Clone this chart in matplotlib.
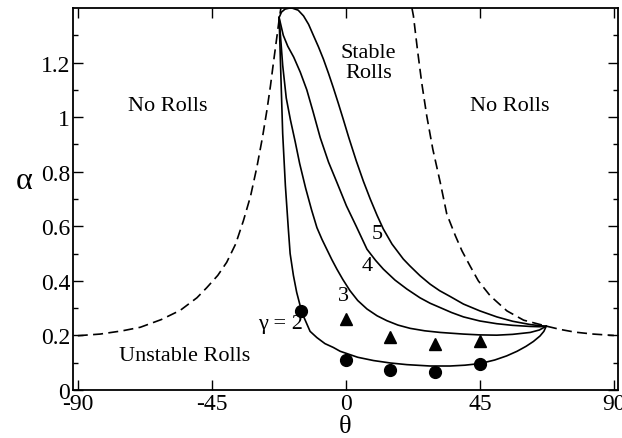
"""
Roll stability diagram: alpha vs theta
"""
import matplotlib
matplotlib.use('Agg')
import matplotlib.pyplot as plt

plt.rcParams['font.family'] = ['Liberation Serif', 'DejaVu Serif']
plt.rcParams['axes.unicode_minus'] = False

# dashed boundaries (existence of rolls)
dash_left_theta = [-90, -82.5, -75, -69, -62, -55.6, -50, -46.7, -43, -40, -37, -34.4,
                   -32, -29.9, -28, -26.5, -25.3, -24.3, -23.2, -22.3, -21.8]
dash_left_alpha = [0.199, 0.205, 0.217, 0.230, 0.258, 0.292, 0.338, 0.375, 0.420, 0.468,
                   0.535, 0.620, 0.710, 0.815, 0.925, 1.025, 1.115, 1.200, 1.290, 1.365, 1.40]
dash_right_theta = [22.2, 22.7, 24.1, 25.5, 27.2, 29.2, 31.7, 33.9, 36.8, 39.0, 41.7,
                    44.5, 48.5, 54.1, 59.7, 67.0, 72.0, 77.0, 83.1, 90]
dash_right_alpha = [1.40, 1.371, 1.243, 1.125, 1.003, 0.883, 0.761, 0.645, 0.565, 0.510,
                    0.455, 0.400, 0.345, 0.290, 0.256, 0.235, 0.222, 0.212, 0.205, 0.200]

# stability boundaries for gamma = 2..5
g2_theta = [-22.4, -21.8, -21.2, -20.3, -19.3, -18.7, -17.6, -16.5, -15.0, -14.2, -12.0,
            -9.7, -7.0, -4.2, -1.9, 4.0, 9.3, 15.0, 20.5, 28.3, 35.0, 40.0, 45.1, 50.0,
            54.0, 57.5, 60.5, 63.0, 65.2, 66.5, 67.3]
g2_alpha = [1.365, 1.15, 0.94, 0.75, 0.59, 0.50, 0.42, 0.358, 0.295, 0.270, 0.215,
            0.192, 0.170, 0.156, 0.142, 0.120, 0.108, 0.099, 0.093, 0.088, 0.088, 0.091,
            0.097, 0.110, 0.125, 0.142, 0.160, 0.178, 0.198, 0.215, 0.234]
g3_theta = [-22.4, -21.2, -20.0, -18.6, -17.0, -15.5, -13.5, -11.5, -9.7, -8.0, -6.4,
            -4.7, -3.0, -1.0, 1.4, 4.0, 7.1, 10.5, 13.8, 17.5, 21.6, 26.5, 31.7, 39.5,
            45.0, 50.7, 56.0, 61.9, 65.0, 67.3]
g3_alpha = [1.365, 1.19, 1.07, 0.99, 0.91, 0.83, 0.74, 0.66, 0.595, 0.552, 0.516, 0.478,
            0.443, 0.405, 0.364, 0.328, 0.297, 0.272, 0.254, 0.238, 0.226, 0.217, 0.211,
            0.205, 0.202, 0.201, 0.204, 0.211, 0.220, 0.234]
g4_theta = [-22.4, -21.0, -19.5, -17.5, -15.3, -13.1, -11.0, -8.6, -5.8, -3.0, 0.2, 3.5,
            7.1, 10.0, 12.6, 16.5, 20.5, 24.9, 28.3, 31.7, 35.5, 39.5, 45.0, 50.7, 56.0,
            61.9, 65.0, 67.3]
g4_alpha = [1.365, 1.30, 1.26, 1.22, 1.165, 1.10, 1.02, 0.925, 0.835, 0.761, 0.675,
            0.600, 0.516, 0.475, 0.443, 0.403, 0.370, 0.338, 0.318, 0.302, 0.284, 0.268,
            0.253, 0.243, 0.237, 0.233, 0.232, 0.234]
g5_theta = [-22.4, -21.6, -20.4, -19.2, -18.1, -16.0, -14.2, -12.5, -10.9, -9.2, -7.5,
            -5.8, -4.2, -2.5, -0.8, 1.0, 3.5, 5.9, 8.2, 10.5, 12.6, 15.5, 19.3, 21.5,
            24.9, 28.3, 31.5, 35.0, 39.5, 45.0, 50.7, 56.0, 61.9, 65.0, 67.3]
g5_alpha = [1.365, 1.385, 1.396, 1.399, 1.400, 1.392, 1.371, 1.340, 1.300, 1.258, 1.212,
            1.160, 1.108, 1.050, 0.990, 0.925, 0.840, 0.765, 0.700, 0.640, 0.590, 0.535,
            0.480, 0.455, 0.419, 0.388, 0.364, 0.343, 0.315, 0.290, 0.268, 0.252, 0.240,
            0.236, 0.234]

# measured points
circ_theta = [-15.0, 0.0, 15.0, 30.0, 45.0]
circ_alpha = [0.290, 0.111, 0.074, 0.065, 0.095]
tri_theta = [0.0, 15.0, 30.0, 45.0]
tri_alpha = [0.262, 0.193, 0.168, 0.178]

xticks = [-90, -45, 0, 45, 90]
xticklabels = ['-90', '-45', '0', '45', '90']
yticks = [0, 0.2, 0.4, 0.6, 0.8, 1.0, 1.2]
yticklabels = ['0', '0.2', '0.4', '0.6', '0.8', '1', '1.2']

fig = plt.figure(figsize=(6.22, 4.39), dpi=100)
ax = fig.add_axes([0.1174, 0.1093, 0.8762, 0.8702])

lw = 1.2
dash = (0, (6, 3.2))
ax.plot(dash_left_theta, dash_left_alpha, color='black', lw=lw, linestyle=dash)
ax.plot(dash_right_theta, dash_right_alpha, color='black', lw=lw, linestyle=dash)
for th, al in [(g2_theta, g2_alpha), (g3_theta, g3_alpha),
               (g4_theta, g4_alpha), (g5_theta, g5_alpha)]:
    ax.plot(th, al, color='black', lw=lw)

ax.plot(circ_theta, circ_alpha, 'o', color='black', markersize=8.5, clip_on=False)
ax.plot(tri_theta, tri_alpha, '^', color='black', markersize=8)

ax.set_xlim(-91.6, 91.4)
ax.set_ylim(0, 1.4)
ax.set_xticks(xticks)
ax.set_xticklabels(xticklabels)
ax.set_yticks(yticks)
ax.set_yticklabels(yticklabels)
ax.set_yticks([0.1, 0.3, 0.5, 0.7, 0.9, 1.1, 1.3], minor=True)
ax.tick_params(which='both', direction='in', top=True, right=True, width=1.0,
               labelsize=17, pad=2)
ax.tick_params(which='major', length=7.5)
ax.tick_params(which='minor', length=3.8)
for sp in ax.spines.values():
    sp.set_linewidth(1.3)

ax.set_xlabel('θ', fontsize=19)
ax.xaxis.set_label_coords(0.5, -0.066)
ax.set_ylabel('α', fontsize=23, rotation=0)
ax.yaxis.set_label_coords(-0.09, 0.51)

fs = 16
ax.text(-59.7, 1.044, 'No Rolls', fontsize=fs, ha='center', va='center')
ax.text(55.2, 1.044, 'No Rolls', fontsize=fs, ha='center', va='center')
ax.text(7.6, 1.20, 'Stable\nRolls', fontsize=fs, ha='center', va='center',
        linespacing=1.1)
ax.text(-54.0, 0.126, 'Unstable Rolls', fontsize=fs, ha='center', va='center')
ax.text(-22.1, 0.242, 'γ = 2', fontsize=fs, ha='center', va='center')
ax.text(-0.8, 0.345, '3', fontsize=fs, ha='center', va='center')
ax.text(7.1, 0.456, '4', fontsize=fs, ha='center', va='center')
ax.text(10.4, 0.573, '5', fontsize=fs, ha='center', va='center')

fig.savefig('out.png', dpi=100)
